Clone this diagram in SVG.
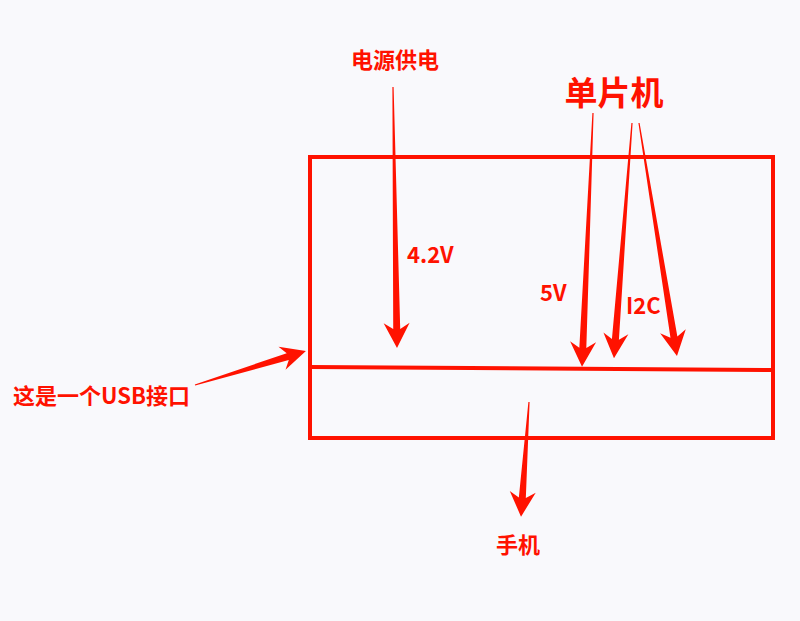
<svg xmlns="http://www.w3.org/2000/svg" width="800" height="621" viewBox="0 0 800 621">
<style>
.bg{fill:#f9f9fc}
.box{fill:none;stroke:#ff1200;stroke-width:4}
.arr{fill:#ff1200}
text{font-family:"Noto Sans CJK SC","Noto Sans",sans-serif;font-weight:bold;fill:#ff1200;font-size:22px}
.big{font-size:33px}
</style>
<rect class="bg" x="0" y="0" width="800" height="621"/>
<g id="board">
<rect class="box" x="310" y="157" width="463" height="281"/>
<line class="box" x1="310" y1="367" x2="773" y2="370"/>
</g>
<g id="power"><text x="395" y="68" text-anchor="middle">电源供电</text></g>
<g id="mcu"><text class="big" x="614" y="105" text-anchor="middle">单片机</text></g>
<g id="usb"><text x="13" y="404">这是一个USB接口</text></g>
<g id="phone"><text x="518" y="553" text-anchor="middle">手机</text></g>
<g id="labels">
<text x="407" y="263">4.2V</text>
<text x="540" y="301">5V</text>
<text x="626" y="314">I2C</text>
</g>
<g id="connectors">
<polygon class="arr" transform="translate(393,87) rotate(89.12)" points="0,-0.6 242,-3.5 236,-13 261,0 236,13 242,3.5 0,0.6"/>
<polygon class="arr" transform="translate(593,113) rotate(92.48)" points="0,-0.6 235,-3.5 229,-13 254,0 229,13 235,3.5 0,0.6"/>
<polygon class="arr" transform="translate(632,123) rotate(94.38)" points="0,-0.6 217,-3.5 211,-12.5 236,0 211,12.5 217,3.5 0,0.6"/>
<polygon class="arr" transform="translate(639,123) rotate(80.74)" points="0,-0.6 217,-3.5 211,-13 236,0 211,13 217,3.5 0,0.6"/>
<polygon class="arr" transform="translate(195,385) rotate(-17.03)" points="0,-0.6 97,-3.5 91,-12 116,0 91,12 97,3.5 0,0.6"/>
<polygon class="arr" transform="translate(529,402) rotate(93.98)" points="0,-0.6 96,-3.5 90,-13 115,0 90,13 96,3.5 0,0.6"/>
</g>
</svg>
